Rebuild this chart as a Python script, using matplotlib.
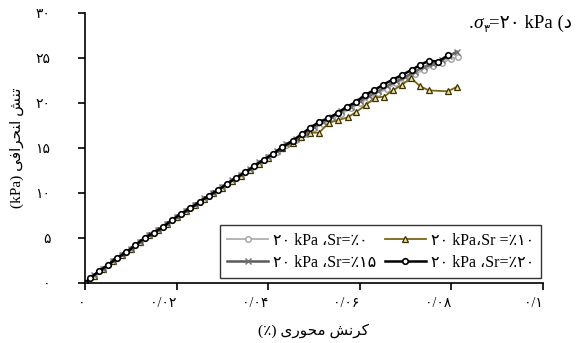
import matplotlib
matplotlib.use("Agg")
import matplotlib.pyplot as plt

plt.rcParams['font.family'] = ['Liberation Serif', 'DejaVu Sans']

# کرنش محوری (%) - تنش انحرافی (kPa)
strain_sr0 = [0, 0.002, 0.004, 0.006, 0.008, 0.010, 0.012, 0.014, 0.016, 0.018,
              0.020, 0.022, 0.024, 0.026, 0.028, 0.030, 0.032, 0.034, 0.036, 0.038,
              0.040, 0.042, 0.044, 0.046, 0.048, 0.050, 0.052, 0.054, 0.056, 0.058,
              0.060, 0.062, 0.064, 0.066, 0.068, 0.070, 0.072, 0.074, 0.076, 0.078,
              0.080, 0.0815]
stress_sr0 = [0, 0.8, 1.6, 2.4, 3.1, 3.8, 4.6, 5.3, 5.9, 6.6,
              7.3, 8.0, 8.7, 9.3, 10.0, 10.7, 11.3, 12.0, 12.6, 13.3,
              14.0, 14.6, 15.3, 15.9, 16.6, 17.2, 17.7, 18.3, 18.8, 19.4,
              20.0, 20.5, 21.1, 21.6, 22.2, 22.7, 23.2, 23.7, 24.1, 24.5,
              24.9, 25.1]

strain_sr10 = [0, 0.002, 0.004, 0.006, 0.008, 0.010, 0.012, 0.014, 0.016, 0.018,
               0.020, 0.022, 0.024, 0.026, 0.028, 0.030, 0.032, 0.034, 0.036, 0.038,
               0.040, 0.043, 0.0454, 0.0472, 0.0491, 0.0511, 0.0533, 0.0552, 0.0574,
               0.0592, 0.0614, 0.0633, 0.0653, 0.0672, 0.0692, 0.0712, 0.0731, 0.0751,
               0.0793, 0.0812]
stress_sr10 = [0, 0.8, 1.6, 2.4, 3.1, 3.8, 4.6, 5.3, 5.9, 6.6,
               7.3, 8.0, 8.7, 9.3, 10.0, 10.6, 11.3, 11.9, 12.6, 13.2,
               13.9, 15.0, 15.6, 16.2, 16.7, 16.7, 17.8, 18.1, 18.4,
               19.0, 19.8, 20.6, 20.7, 21.4, 22.0, 22.8, 21.9, 21.4,
               21.3, 21.8]

strain_sr15 = [0, 0.002, 0.004, 0.006, 0.008, 0.010, 0.012, 0.014, 0.016, 0.018,
               0.020, 0.022, 0.024, 0.026, 0.028, 0.030, 0.032, 0.034, 0.036, 0.038,
               0.040, 0.042, 0.044, 0.046, 0.048, 0.050, 0.052, 0.054, 0.056, 0.058,
               0.060, 0.062, 0.064, 0.066, 0.068, 0.070, 0.072, 0.074, 0.076, 0.078,
               0.0795, 0.0812]
stress_sr15 = [0, 0.9, 1.6, 2.4, 3.1, 3.8, 4.6, 5.3, 5.9, 6.6,
               7.3, 8.0, 8.7, 9.4, 10.0, 10.7, 11.4, 12.0, 12.7, 13.4,
               14.0, 14.7, 15.4, 16.0, 16.6, 17.3, 17.9, 18.5, 19.1, 19.6,
               20.2, 20.8, 21.3, 21.9, 22.4, 22.9, 23.5, 24.0, 24.3, 24.8,
               25.2, 25.7]

strain_sr20 = [0, 0.001, 0.003, 0.005, 0.007, 0.009, 0.011, 0.013, 0.015, 0.017,
               0.019, 0.021, 0.023, 0.025, 0.027, 0.029, 0.031, 0.033, 0.035, 0.037,
               0.039, 0.041, 0.043, 0.0454, 0.0474, 0.0491, 0.0511, 0.0531, 0.0552,
               0.0572, 0.0592, 0.0611, 0.0631, 0.065, 0.0672, 0.0692, 0.0714, 0.0731,
               0.0751, 0.0771, 0.0793]
stress_sr20 = [0, 0.5, 1.3, 2.0, 2.8, 3.4, 4.2, 5.0, 5.6, 6.2,
               7.0, 7.7, 8.3, 9.0, 9.7, 10.3, 11.0, 11.7, 12.3, 13.0,
               13.7, 14.3, 15.1, 15.8, 16.6, 17.2, 17.9, 18.3, 18.9,
               19.6, 20.1, 20.9, 21.4, 22.0, 22.6, 23.1, 23.7, 24.2,
               24.7, 24.6, 25.3]

xticks = [0, 0.02, 0.04, 0.06, 0.08, 0.1]
xtick_labels = ['۰', '۰/۰۲', '۰/۰۴', '۰/۰۶', '۰/۰۸', '۰/۱']
yticks = [0, 5, 10, 15, 20, 25, 30]
ytick_labels = ['۰', '۵', '۱۰', '۱۵', '۲۰', '۲۵', '۳۰']

# visual-order text (presentation forms, right-to-left already reversed)
label_sr0 = '۲۰ kPa ،Sr=٪۰'
label_sr10 = '۲۰ kPa،Sr =٪۱۰'
label_sr15 = '۲۰ kPa ،Sr=٪۱۵'
label_sr20 = '۲۰ kPa ،Sr=٪۲۰'
xlabel = '(٪) ﯼﺭﻮﺤﻣ ﺶﻧﺮﮐ'
ylabel = '(kPa) ﯽﻓﺍﺮﺤﻨﺍ ﺶﻨﺗ'

fig = plt.figure(figsize=(5.83, 3.43), dpi=100)
ax = fig.add_axes([0.146, 0.175, 0.785, 0.787])

l0, = ax.plot(strain_sr0, stress_sr0, color='#b5b5b5', lw=1.4, marker='o', ms=4,
              mfc='white', mec='#a0a0a0', mew=1.0)
l10, = ax.plot(strain_sr10, stress_sr10, color='#7a6614', lw=1.3, marker='^', ms=4.5,
               mfc='#efe2a0', mec='#3a3000', mew=0.9)
l15, = ax.plot(strain_sr15, stress_sr15, color='#5a5a5a', lw=1.8, marker='x', ms=4,
               mec='#707070', mew=1.0)
l20, = ax.plot(strain_sr20, stress_sr20, color='black', lw=1.8, marker='o', ms=4,
               mfc='white', mec='black', mew=1.2)

ax.set_xlim(0, 0.1)
ax.set_ylim(0, 30)
ax.set_xticks(xticks)
ax.set_xticklabels(xtick_labels, ha='right')
ax.set_yticks(yticks)
ax.set_yticklabels(ytick_labels)
ax.tick_params(axis='x', direction='out', length=5, width=1.2, pad=5, labelsize=10)
ax.tick_params(axis='y', direction='out', length=5, width=1.2, pad=20, labelsize=10)
for s in ['top', 'right']:
    ax.spines[s].set_visible(False)
for s in ['left', 'bottom']:
    ax.spines[s].set_linewidth(1.2)

ax.set_xlabel(xlabel, fontsize=11, labelpad=10)
ax.set_ylabel(ylabel, fontsize=11, labelpad=8)

leg = ax.legend([l0, l15, l10, l20], [label_sr0, label_sr15, label_sr10, label_sr20],
                ncol=2, loc='lower right', bbox_to_anchor=(0.997, 0.018),
                borderaxespad=0, fontsize=11.5, frameon=True, fancybox=False,
                edgecolor='black', handlelength=2.6, handletextpad=0.3,
                columnspacing=0.5, borderpad=0.45, labelspacing=0.4)
leg.get_frame().set_linewidth(1.0)

# title pieces:  .σ۳=۲۰ kPa (د
fig.canvas.draw()
renderer = fig.canvas.get_renderer()
x0 = 469
base = 343 - 28
pieces = [('.', dict(fontsize=13.5), 0),
          ('σ', dict(fontsize=14, fontstyle='italic'), 0),
          ('۳', dict(fontsize=8), -4),
          ('=۲۰ kPa (ﺩ', dict(fontsize=13.5), 0)]
x = x0
for txt, kw, dy in pieces:
    t = fig.text(x / 583, (base + dy) / 343, txt, ha='left', va='baseline', **kw)
    bb = t.get_window_extent(renderer)
    x += bb.width

fig.savefig('out.png', dpi=100)
